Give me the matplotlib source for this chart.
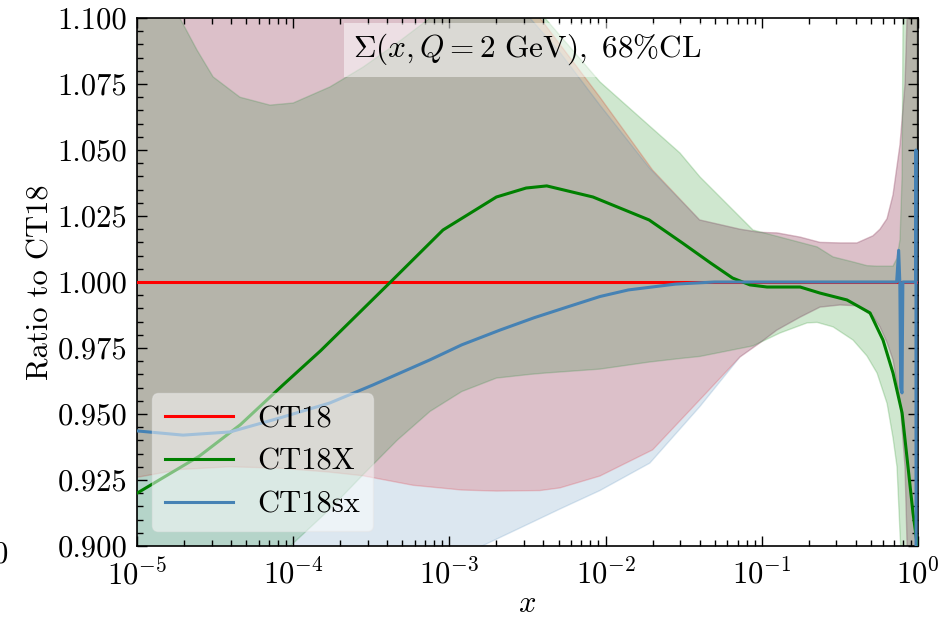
import matplotlib
matplotlib.use("Agg")
import matplotlib.pyplot as plt
from matplotlib.ticker import MultipleLocator, FormatStrFormatter, LogLocator, NullFormatter

plt.rcParams['font.family'] = 'serif'
plt.rcParams['font.serif'] = ['cmr10']
plt.rcParams['mathtext.fontset'] = 'cm'
plt.rcParams['axes.formatter.use_mathtext'] = True

# ---------------- data ----------------
labels = ["CT18", "CT18X", "CT18sx"]
colors = ["red", "green", "steelblue"]

# CT18 (reference)
ct18_x = [1.0e-5, 0.975]
ct18_c = [1.0, 1.0]
ct18_band_x = [1.0e-5, 1.9e-5, 3.9e-5, 8.2e-5, 1.7e-4, 2.8e-4, 5.85e-4, 1.2e-3, 2.0e-3, 3.8e-3,
               5.1e-3, 9.2e-3, 2.0e-2, 4.0e-2, 7.25e-2, 9.7e-2, 0.125, 0.176, 0.236, 0.317,
               0.407, 0.515, 0.571, 0.634, 0.692, 0.767, 0.826, 0.851, 0.90, 0.99]
ct18_hi = [1.18, 1.175, 1.17, 1.16, 1.15, 1.14, 1.13, 1.12, 1.11, 1.10,
           1.09, 1.070, 1.0424, 1.0235, 1.020, 1.0188, 1.0186, 1.017, 1.015, 1.0148,
           1.0148, 1.0175, 1.020, 1.024, 1.033, 1.052, 1.075, 1.10, 1.20, 1.30]
ct18_lo = [0.926, 0.929, 0.930, 0.9295, 0.928, 0.9266, 0.923, 0.9212, 0.9208, 0.921,
           0.922, 0.9265, 0.9364, 0.9553, 0.9716, 0.9769, 0.9818, 0.9867, 0.9905, 0.9913,
           0.991, 0.987, 0.983, 0.977, 0.9705, 0.955, 0.930, 0.901, 0.85, 0.80]

# CT18X
ctx_x = [1.0e-5, 2.5e-5, 4.6e-5, 8.6e-5, 1.5e-4, 4.2e-4, 9.1e-4, 2.0e-3, 3.1e-3, 4.2e-3,
         8.3e-3, 1.9e-2, 3.1e-2, 4.7e-2, 6.5e-2, 8.4e-2, 0.108, 0.176, 0.236, 0.351,
         0.493, 0.597, 0.692, 0.791, 0.863, 0.929, 0.986, 0.998]
ctx_c = [0.920, 0.934, 0.946, 0.961, 0.974, 1.000, 1.0197, 1.0322, 1.0356, 1.0364,
         1.0322, 1.0235, 1.0148, 1.0072, 1.0015, 0.9989, 0.9981, 0.9981, 0.9958, 0.9932,
         0.9883, 0.978, 0.9655, 0.9504, 0.930, 0.9125, 0.901, 0.88]
ctx_band_x = [1.0e-5, 1.4e-5, 1.88e-5, 2.42e-5, 3.07e-5, 4.56e-5, 7.1e-5, 1.0e-4, 1.72e-4, 2.8e-4,
              4.62e-4, 7.52e-4, 1.2e-3, 2.0e-3, 3.28e-3, 4.09e-3, 9.2e-3, 1.92e-2, 2.99e-2, 4.02e-2,
              8.78e-2, 0.131, 0.195, 0.226, 0.286, 0.384, 0.471, 0.547, 0.634, 0.692,
              0.734, 0.767, 0.791, 0.802, 0.85, 0.99]
ctx_hi = [1.13, 1.113, 1.10, 1.0879, 1.0777, 1.070, 1.067, 1.0678, 1.0739, 1.0814,
          1.0905, 1.10, 1.11, 1.115, 1.108, 1.10, 1.0758, 1.059, 1.0489, 1.0398,
          1.0197, 1.017, 1.0143, 1.0133, 1.0095, 1.0076, 1.0062, 1.006, 1.006, 1.006,
          1.009, 1.016, 1.04, 1.10, 1.20, 1.30]
ctx_lo = [0.86, 0.865, 0.87, 0.875, 0.88, 0.886, 0.893, 0.901, 0.914, 0.927,
          0.940, 0.951, 0.9585, 0.9636, 0.965, 0.9655, 0.967, 0.9697, 0.971, 0.9718,
          0.9758, 0.9807, 0.9845, 0.9847, 0.983, 0.978, 0.972, 0.9655, 0.954, 0.941,
          0.930, 0.905, 0.89, 0.88, 0.84, 0.80]

# CT18sx
cts_x = [1.0e-5, 1.97e-5, 3.94e-5, 8.2e-5, 1.72e-4, 3.24e-4, 7.5e-4, 1.2e-3, 2.11e-3, 3.5e-3,
         5.66e-3, 9.2e-3, 1.4e-2, 2.8e-2, 5.0e-2, 0.73, 0.752, 0.765, 0.775, 0.79,
         0.80, 0.965, 0.97, 0.972]
cts_c = [0.9436, 0.942, 0.9432, 0.9485, 0.9542, 0.961, 0.9705, 0.9762, 0.9818, 0.9865,
         0.9905, 0.9945, 0.997, 0.9992, 1.0, 1.0, 1.012, 1.0, 0.96, 0.958,
         1.0, 1.0, 1.05, 0.85]
cts_band_x = [1.0e-5, 3.0e-5, 1.0e-4, 3.0e-4, 1.0e-3, 1.62e-3, 3.28e-3, 5.1e-3, 9.2e-3, 1.92e-2,
              4.0e-2, 7.25e-2, 9.7e-2, 0.125, 0.176, 0.236, 0.317, 0.407, 0.515, 0.571,
              0.634, 0.692, 0.767, 0.826, 0.851, 0.90, 0.99]
cts_hi = [1.18, 1.17, 1.16, 1.15, 1.13, 1.115, 1.10, 1.087, 1.067, 1.043,
          1.0235, 1.020, 1.0188, 1.0186, 1.017, 1.015, 1.0148, 1.0148, 1.0175, 1.020,
          1.024, 1.033, 1.052, 1.075, 1.10, 1.20, 1.30]
cts_lo = [0.85, 0.855, 0.865, 0.878, 0.893, 0.90, 0.9086, 0.914, 0.921, 0.9314,
          0.9527, 0.9716, 0.9769, 0.9818, 0.9867, 0.9905, 0.9913, 0.991, 0.987, 0.983,
          0.977, 0.9705, 0.955, 0.930, 0.901, 0.85, 0.80]

yticks = [0.900, 0.925, 0.950, 0.975, 1.000, 1.025, 1.050, 1.075, 1.100]
title = r"$\Sigma(x,Q=2\ \mathrm{GeV}),\ 68\%\mathrm{CL}$"

# ---------------- plot ----------------
fig = plt.figure(figsize=(9.45, 6.18), dpi=100)
ax = fig.add_axes([137/945, 1-546/618, 781/945, 528/618])

bands = [(ct18_band_x, ct18_lo, ct18_hi), (ctx_band_x, ctx_lo, ctx_hi), (cts_band_x, cts_lo, cts_hi)]
for (bx, lo, hi), c in zip(bands, colors):
    ax.fill_between(bx, lo, hi, color=c, alpha=0.19, lw=1.0, zorder=1)

lines = [(ct18_x, ct18_c), (ctx_x, ctx_c), (cts_x, cts_c)]
for (lx, ly), c, lab in zip(lines, colors, labels):
    ax.plot(lx, ly, color=c, lw=2.2, label=lab, zorder=3)

ax.set_xscale('log')
ax.set_xlim(1e-5, 1)
ax.set_ylim(0.9, 1.1)
ax.set_yticks(yticks)
ax.yaxis.set_minor_locator(MultipleLocator(0.005))
ax.yaxis.set_major_formatter(FormatStrFormatter('%.3f'))
ax.xaxis.set_major_locator(LogLocator(base=10, numticks=10))
ax.xaxis.set_minor_locator(LogLocator(base=10, subs=[2, 3, 4, 5, 6, 7, 8, 9], numticks=20))
ax.xaxis.set_minor_formatter(NullFormatter())
ax.tick_params(which='both', direction='in', top=True, right=True, labelsize=22, width=1.0)
ax.tick_params(which='major', length=7, pad=7)
ax.tick_params(axis='x', which='major', pad=9)
ax.tick_params(which='minor', length=4)
for s in ax.spines.values():
    s.set_linewidth(1.2)

ax.set_ylabel("Ratio to CT18", fontsize=22)
ax.yaxis.set_label_coords(-0.105, 0.5)
ax.set_xlabel(r"$x$", fontsize=22)
ax.xaxis.set_label_coords(0.5, -0.085)

ax.text(0.5, 0.94, title, transform=ax.transAxes, ha='center', va='center', fontsize=22.5,
        bbox=dict(boxstyle='square,pad=0.3', facecolor='white', alpha=0.5, edgecolor='none'),
        zorder=5)

leg = ax.legend(loc='lower left', fontsize=22, handlelength=2.25, handletextpad=0.8,
                framealpha=0.5, facecolor='white', edgecolor='0.9', borderaxespad=0.5)
leg.set_zorder(6)

fig.text(8/945, 1-555/618, "0", fontsize=22, ha='right', va='center')

fig.savefig("out.png", dpi=100)
